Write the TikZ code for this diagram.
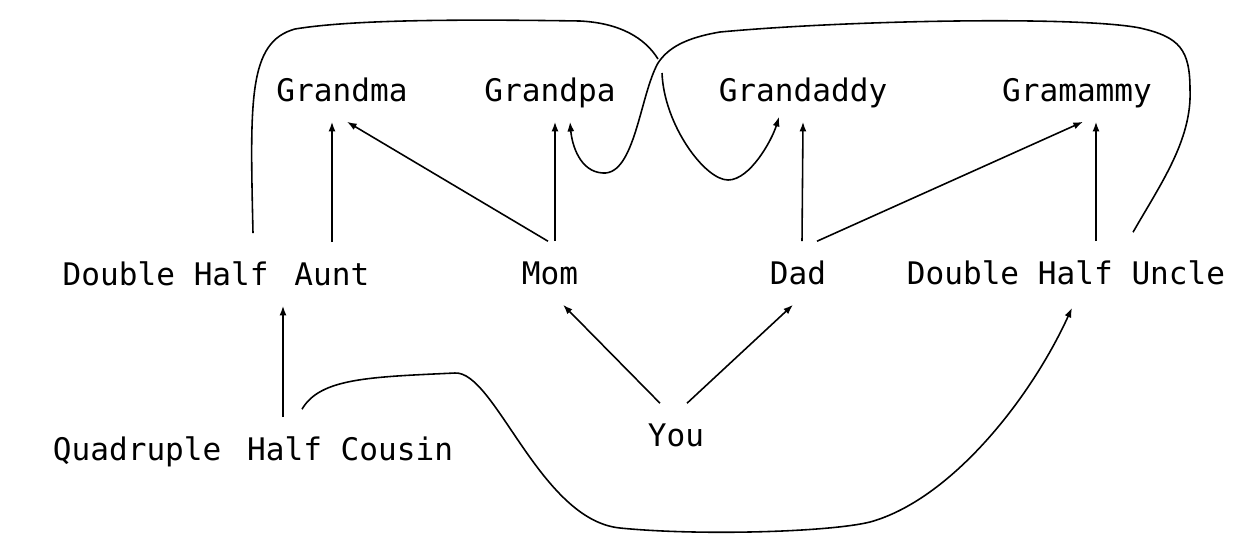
\documentclass[tikz,border=0pt]{standalone}
\usepackage{fontspec}
\setmonofont{DejaVu Sans Mono}
\usetikzlibrary{calc,arrows.meta}

\begin{document}
\begin{tikzpicture}[x=0.02cm,y=-0.02cm,line width=0.9pt,>={Latex[length=5.5pt,width=4pt]},
        person/.style={font=\ttfamily\fontsize{17.7}{22}\selectfont,inner sep=0pt,
                text height=13pt,text depth=0pt,minimum height=1.24cm}]
        \useasboundingbox (0,0) rectangle (1246,552);

        % grandparents
        \node[person] (grandma)   at (342,90)  {Grandma};
        \node[person] (grandpa)   at (550,90)  {Grandpa};
        \node[person] (grandaddy) at (803,90)  {Grandaddy};
        \node[person] (gramammy)  at (1077,90) {Gramammy};

        % parents and siblings
        \node[person] (aunt)  at (216,274)  {Double Half\hspace{4pt} Aunt};
        \node[person] (mom)   at (550,273)  {Mom};
        \node[person] (dad)   at (798,273)  {Dad};
        \node[person] (uncle) at (1066,273) {Double Half Uncle};

        % children
        \node[person] (cousin) at (253,449) {Quadruple\hspace{4pt} Half Cousin};
        \node[person] (you)    at (676,435) {You};

        % straight parent edges
        \foreach \from/\dx/\to/\tx in {
            aunt/116/grandma/-10,
            mom/-2/grandma/5,
            mom/5/grandpa/5,
            dad/4/grandaddy/0,
            dad/19/gramammy/6,
            uncle/30/gramammy/19,
            cousin/30/aunt/67,
            you/-16/mom/13,
            you/11/dad/-5}
                \draw[->] ($(\from.north)+(\dx,0)$) -- ($(\to.south)+(\tx,0)$);

        % aunt loop, cut where the uncle loop crosses it
        \draw ($(aunt.north)+(37,-9)$) .. controls (250,100) and (248,42) .. (295,29)
                .. controls (350,20) and (450,19) .. (580,21)
                .. controls (620,23) and (645,38) .. (658,59);
        \draw[->] (662,73) .. controls (664,125) and (705,180) .. (728,180)
                .. controls (750,180) and (772,140) .. ($(grandaddy.south)+(-24,-5)$);

        % uncle loop
        \draw[->] ($(uncle.north)+(67,-9)$) .. controls (1160,185) and (1192,140) .. (1190,90)
                .. controls (1190,50) and (1180,37) .. (1140,28)
                .. controls (1080,16) and (850,20) .. (720,32)
                .. controls (685,38) and (668,48) .. (658,63)
                .. controls (640,95) and (635,175) .. (603,173)
                .. controls (580,172) and (572,145) .. ($(grandpa.south)+(20,0)$);

        % cousin loop
        \draw[->] ($(cousin.north)+(49,-8)$) .. controls (320,378) and (370,377) .. (455,373)
                .. controls (495,371) and (540,520) .. (620,528)
                .. controls (700,536) and (830,532) .. (870,522)
                .. controls (950,500) and (1030,400) .. ($(uncle.south)+(6,3)$);
\end{tikzpicture}
\end{document}
